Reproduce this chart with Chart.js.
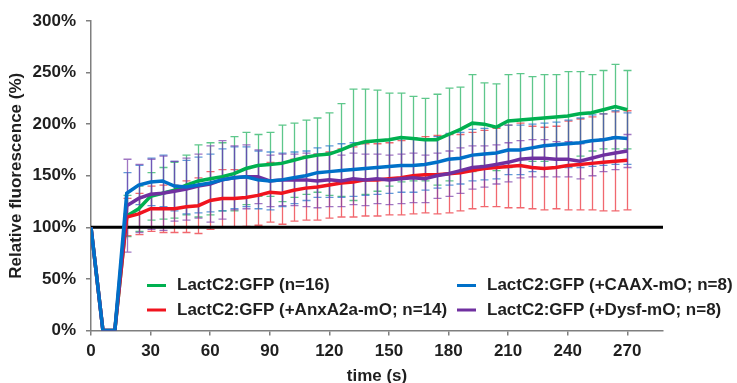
<!DOCTYPE html>
<html>
<head>
<meta charset="utf-8">
<script src="https://cdn.jsdelivr.net/npm/chart.js@4.4.1/dist/chart.umd.min.js"></script>
<style>
  html, body { margin: 0; padding: 0; background: #fff; }
  #wrap { width: 737px; height: 383px; }
</style>
</head>
<body>
<div id="wrap"><canvas id="fluoChart" width="737" height="383"></canvas></div>
<script>

// time points (s), one sample every 6 s
const times = [0, 6, 12, 18, 24, 30, 36, 42, 48, 54, 60, 66, 72, 78, 84, 90, 96, 102, 108, 114,
  120, 126, 132, 138, 144, 150, 156, 162, 168, 174, 180, 186, 192, 198, 204, 210, 216, 222, 228,
  234, 240, 246, 252, 258, 264, 270];

const xTickLabels = [0, 30, 60, 90, 120, 150, 180, 210, 240, 270];
const yTickLabels = [0, 50, 100, 150, 200, 250, 300];
const xMax = 288;
const baselineLevel = 100;

const seriesNames = [
  'LactC2:GFP (n=16)',
  'LactC2:GFP (+CAAX-mO; n=8)',
  'LactC2:GFP (+AnxA2a-mO; n=14)',
  'LactC2:GFP (+Dysf-mO; n=8)'
];

// mean relative fluorescence (%)
const greenMean = [100, 0, 0, 111, 118, 130, 133, 136, 141, 145, 147, 149, 152, 157, 160, 161, 162, 165, 168, 170,
  171, 175, 180, 183, 184, 185, 187, 186, 185, 185, 190, 195, 201, 200, 197, 203, 204, 205, 206,
  207, 208, 210, 211, 214, 217, 214];
const blueMean = [100, 0, 0, 133, 141, 144, 145, 140, 139, 141, 143, 146, 148, 149, 146, 145, 146, 148, 150, 153,
  154, 155, 156, 157, 158, 159, 160, 160, 161, 163, 166, 167, 170, 171, 172, 175, 175, 177, 179,
  180, 181, 182, 184, 185, 187, 186];
const redMean = [100, 0, 0, 110, 113, 118, 118, 118, 120, 121, 126, 128, 128, 129, 131, 134, 133, 136, 138, 139,
  141, 143, 144, 146, 146, 147, 148, 150, 151, 151, 152, 153, 155, 157, 158, 159, 160, 158, 157,
  158, 160, 161, 162, 163, 164, 165];
const purpleMean = [100, 0, 0, 121, 128, 132, 133, 135, 137, 140, 142, 146, 148, 149, 149, 145, 146, 146, 146, 145,
  146, 145, 147, 146, 147, 146, 147, 148, 147, 150, 152, 155, 158, 159, 161, 163, 166, 167, 167,
  166, 166, 164, 167, 170, 172, 174];

// standard deviation (%)
const greenSd = [0, 0, 0, 20, 22, 23, 25, 27, 29, 35, 35, 33, 36, 35, 30, 31, 37, 36, 36, 36,
  40, 45, 54, 51, 49, 45, 43, 41, 40, 44, 45, 41, 47, 40, 42, 45, 45, 41, 42,
  41, 43, 41, 37, 38, 41, 38];
const blueSd = [0, 0, 0, 20, 19, 23, 25, 24, 26, 27, 28, 30, 30, 29, 28, 28, 26, 25, 24, 24,
  25, 26, 26, 26, 26, 26, 26, 26, 25, 25, 25, 25, 25, 25, 25, 24, 24, 23, 22,
  22, 23, 24, 25, 25, 26, 25];
const redSd = [0, 0, 0, 18, 20, 22, 23, 23, 25, 27, 28, 28, 28, 28, 29, 29, 30, 30, 31, 32,
  32, 33, 34, 35, 35, 35, 36, 37, 37, 38, 38, 37, 37, 37, 38, 40, 41, 40, 40,
  40, 43, 44, 45, 47, 48, 48];
const purpleSd = [0, 0, 0, 45, 33, 34, 36, 29, 30, 31, 37, 38, 31, 31, 26, 25, 25, 25, 26, 26,
  26, 25, 25, 25, 24, 24, 24, 24, 23, 22, 22, 22, 21, 20, 19, 19, 18, 18, 18,
  17, 17, 17, 17, 16, 16, 16];

const FONT = '"Liberation Sans", Arial, sans-serif';
const TEXT = '#1f1f1f';

function toPoints(values) {
  return values.map((v, i) => ({ x: times[i], y: v }));
}

function makeSeries(label, values, sd, color, barColor, order) {
  return {
    label: label,
    data: toPoints(values),
    sd: sd,
    barColor: barColor,
    borderColor: color,
    backgroundColor: color,
    borderWidth: 3.5,
    pointRadius: 0,
    tension: 0,
    order: order
  };
}

const datasets = [
  makeSeries(seriesNames[0], greenMean, greenSd, 'rgb(0,176,80)', 'rgba(40,180,100,0.75)', 4),
  makeSeries(seriesNames[1], blueMean, blueSd, 'rgb(0,112,200)', 'rgba(30,110,200,0.7)', 1),
  makeSeries(seriesNames[2], redMean, redSd, 'rgb(240,20,30)', 'rgba(235,40,50,0.7)', 3),
  makeSeries(seriesNames[3], purpleMean, purpleSd, 'rgb(112,48,160)', 'rgba(120,60,170,0.7)', 2),
  {
    label: 'baseline',
    data: [{ x: 0, y: baselineLevel }, { x: xMax, y: baselineLevel }],
    borderColor: '#000',
    borderWidth: 3,
    pointRadius: 0,
    order: 5
  }
];

// error bars, drawn under the lines
const errorBars = {
  id: 'errorBars',
  beforeDatasetsDraw(chart) {
    const { ctx, scales: { x, y } } = chart;
    const drawOrder = [0, 2, 1, 3];
    drawOrder.forEach(i => {
      const ds = chart.data.datasets[i];
      ctx.save();
      ctx.strokeStyle = ds.barColor;
      ctx.lineWidth = 1.3;
      ds.data.forEach((p, j) => {
        const s = ds.sd[j];
        if (!s) return;
        const px = Math.round(x.getPixelForValue(p.x)) + 0.5;
        const top = y.getPixelForValue(p.y + s);
        const bot = y.getPixelForValue(p.y - s);
        ctx.beginPath();
        ctx.moveTo(px, top);
        ctx.lineTo(px, bot);
        ctx.moveTo(px - 4, top);
        ctx.lineTo(px + 4, top);
        ctx.moveTo(px - 4, bot);
        ctx.lineTo(px + 4, bot);
        ctx.stroke();
      });
      ctx.restore();
    });
  }
};

// two column legend inside the plot
const innerLegend = {
  id: 'innerLegend',
  afterDraw(chart) {
    const ctx = chart.ctx;
    const slots = [
      { ds: 0, x: 147, y: 285.5 },
      { ds: 1, x: 457, y: 285.5 },
      { ds: 2, x: 147, y: 310 },
      { ds: 3, x: 457, y: 310 }
    ];
    ctx.save();
    ctx.font = 'bold 17px ' + FONT;
    ctx.textBaseline = 'middle';
    ctx.textAlign = 'left';
    slots.forEach(s => {
      const ds = chart.data.datasets[s.ds];
      ctx.strokeStyle = ds.borderColor;
      ctx.lineWidth = 3;
      ctx.beginPath();
      ctx.moveTo(s.x, s.y);
      ctx.lineTo(s.x + 19, s.y);
      ctx.stroke();
      ctx.fillStyle = TEXT;
      ctx.fillText(ds.label, s.x + 30, s.y);
    });
    ctx.restore();
  }
};

new Chart(document.getElementById('fluoChart'), {
  type: 'line',
  data: { datasets: datasets },
  options: {
    responsive: false,
    animation: false,
    devicePixelRatio: 1,
    layout: { padding: { top: 21, right: 74, left: 0, bottom: 0 } },
    plugins: {
      legend: { display: false },
      tooltip: { enabled: false }
    },
    scales: {
      x: {
        type: 'linear',
        min: 0,
        max: xMax,
        afterBuildTicks: scale => { scale.ticks = xTickLabels.map(v => ({ value: v })); },
        afterFit: scale => { scale.height = 52.5; },
        grid: { drawOnChartArea: false, color: '#7f7f7f', tickLength: 5, lineWidth: 1.5 },
        border: { color: '#7f7f7f', width: 1.5 },
        ticks: { color: TEXT, padding: 6, font: { family: FONT, size: 17, weight: 'bold' } },
        title: {
          display: true,
          text: 'time (s)',
          color: TEXT,
          padding: { top: 0, bottom: 0 },
          font: { family: FONT, size: 17, weight: 'bold', lineHeight: 0.76 }
        }
      },
      y: {
        min: 0,
        max: 300,
        afterBuildTicks: scale => { scale.ticks = yTickLabels.map(v => ({ value: v })); },
        afterFit: scale => { scale.width = 91; },
        grid: { drawOnChartArea: false, color: '#7f7f7f', tickLength: 5, lineWidth: 1.5 },
        border: { color: '#7f7f7f', width: 1.5 },
        ticks: {
          color: TEXT,
          padding: 10,
          font: { family: FONT, size: 17, weight: 'bold' },
          callback: v => v + '%'
        },
        title: {
          display: true,
          text: 'Relative fluorescence (%)',
          color: TEXT,
          padding: { top: 6, bottom: 0 },
          font: { family: FONT, size: 17, weight: 'bold' }
        }
      }
    }
  },
  plugins: [errorBars, innerLegend]
});
</script>
</body>
</html>
